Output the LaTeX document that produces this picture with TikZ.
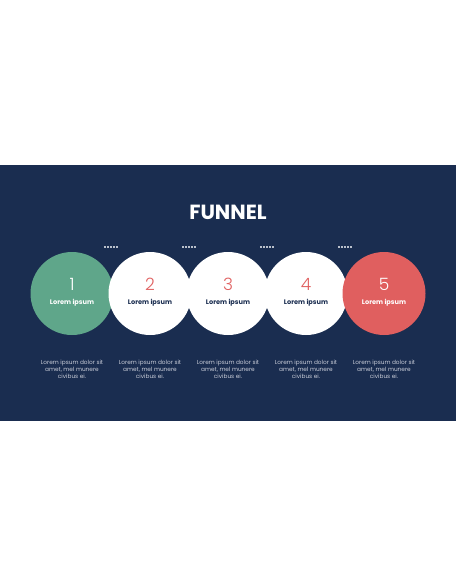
\documentclass[tikz,border=0pt]{standalone}
\usepackage{fontspec}
\setmainfont{Poppins}
\newfontfamily\poplight{Poppins Light}
\definecolor{navy}{HTML}{1A2D50}
\definecolor{fgreen}{HTML}{5FA68A}
\definecolor{fred}{HTML}{E05F5F}
\definecolor{ltext}{HTML}{C9CDD8}
\begin{document}
\begin{tikzpicture}[x=1pt,y=-1pt,
  circ/.style={circle,minimum size=83pt,inner sep=0pt},
  num/.style={font=\poplight\fontsize{17}{17}\selectfont,inner sep=0pt},
  lab/.style={font=\bfseries\fontsize{6.6}{7}\selectfont,inner sep=0pt},
  desc/.style={font=\fontsize{5.8}{7}\selectfont,text=ltext,align=center,inner sep=0pt},
  dotsq/.style={fill=white!70!navy}]
\useasboundingbox (0,0) rectangle (456,586);
\fill[white] (0,0) rectangle (456,586);
\fill[navy] (0,165) rectangle (456,420.5);
\node[font=\bfseries\fontsize{20.5}{20}\selectfont,text=white,inner sep=0pt] (title) at (228,212) {FUNNEL};
% circles
\node[circ,fill=fgreen] (c1) at (72,293.5) {};
\node[circ,fill=white] (c2) at (150,293.5) {};
\node[circ,fill=white] (c3) at (228,293.5) {};
\node[circ,fill=white] (c4) at (306,293.5) {};
\node[circ,fill=fred] (c5) at (384,293.5) {};
% numbers
\node[num,text=white] (n1) at (72,284) {1};
\node[num,text=fred] (n2) at (150,284) {2};
\node[num,text=fred] (n3) at (228,284) {3};
\node[num,text=fred] (n4) at (306,284) {4};
\node[num,text=white] (n5) at (384,284) {5};
% labels
\node[lab,text=white] (l1) at (72,303) {Lorem ipsum};
\node[lab,text=navy] (l2) at (150,303) {Lorem ipsum};
\node[lab,text=navy] (l3) at (228,303) {Lorem ipsum};
\node[lab,text=navy] (l4) at (306,303) {Lorem ipsum};
\node[lab,text=white] (l5) at (384,303) {Lorem ipsum};
% dots
\foreach \x in {111,189,267,345}{
  \foreach \k in {-6,-3,0,3,6}{
    \fill[dotsq] (\x+\k-0.9,246.2) rectangle (\x+\k+0.9,248);
  }
}
% descriptions
\foreach \x [count=\i] in {72,150,228,306,384}{
  \node[desc] (d\i) at (\x,369) {Lorem ipsum dolor sit\\amet, mel munere\\civibus ei.};
}
\end{tikzpicture}
\end{document}
